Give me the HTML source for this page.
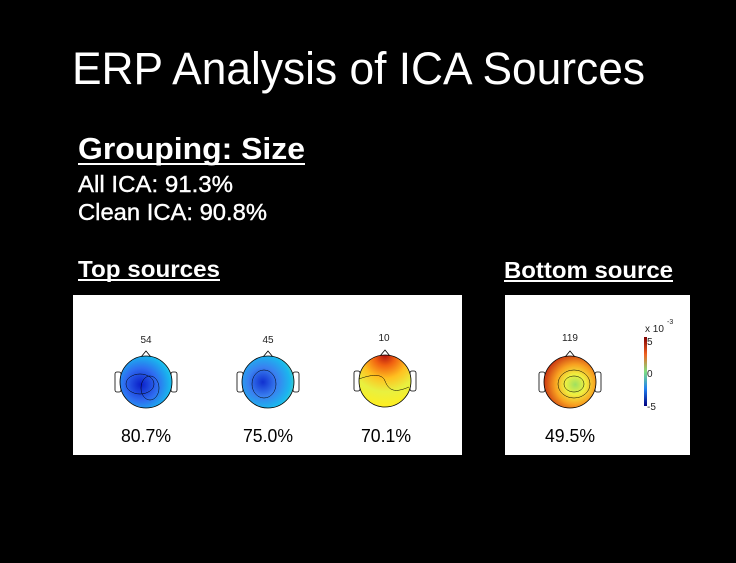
<!DOCTYPE html>
<html><head><style>
body{margin:0;background:#000;width:736px;height:558px;overflow:hidden;font-family:"Liberation Sans",Arial,sans-serif}
</style></head><body>
<svg width="736" height="558" xmlns="http://www.w3.org/2000/svg" font-family="Liberation Sans, Arial, sans-serif">
<defs>
<radialGradient id="g1" cx="0.4" cy="0.55" r="0.7"><stop offset="0" stop-color="#0a1ec8"/><stop offset="0.45" stop-color="#2f6cf0"/><stop offset="0.8" stop-color="#19b6ee"/><stop offset="1" stop-color="#46e0e0"/></radialGradient>
<radialGradient id="g2" cx="0.4" cy="0.5" r="0.7"><stop offset="0" stop-color="#1030d0"/><stop offset="0.4" stop-color="#3a80f0"/><stop offset="0.75" stop-color="#1ab8ee"/><stop offset="1" stop-color="#6ee0a0"/></radialGradient>
<radialGradient id="g3" cx="0.5" cy="0" r="1"><stop offset="0" stop-color="#b01010"/><stop offset="0.2" stop-color="#f06010"/><stop offset="0.45" stop-color="#ffc020"/><stop offset="0.7" stop-color="#e8f040"/><stop offset="1" stop-color="#ffee20"/></radialGradient>
<radialGradient id="g4" cx="0.6" cy="0.55" r="0.65"><stop offset="0" stop-color="#9ee060"/><stop offset="0.3" stop-color="#f0f040"/><stop offset="0.6" stop-color="#f8a020"/><stop offset="1" stop-color="#c02010"/></radialGradient>
<linearGradient id="cb" x1="0" y1="0" x2="0" y2="1"><stop offset="0" stop-color="#800000"/><stop offset="0.25" stop-color="#f06020"/><stop offset="0.5" stop-color="#80e080"/><stop offset="0.75" stop-color="#2080f0"/><stop offset="1" stop-color="#000080"/></linearGradient>
</defs>
<text x="72" y="84" fill="#fff" font-size="45" textLength="573" lengthAdjust="spacingAndGlyphs">ERP Analysis of ICA Sources</text>
<text x="78" y="159" fill="#fff" font-size="31" font-weight="bold" textLength="227" lengthAdjust="spacingAndGlyphs">Grouping: Size</text>
<line x1="78" y1="164" x2="305" y2="164" stroke="#fff" stroke-width="2"/>
<text x="78" y="192" fill="#fff" stroke="#fff" stroke-width="0.4" font-size="23" textLength="155" lengthAdjust="spacingAndGlyphs">All ICA: 91.3%</text>
<text x="78" y="220" fill="#fff" stroke="#fff" stroke-width="0.4" font-size="23" textLength="189" lengthAdjust="spacingAndGlyphs">Clean ICA: 90.8%</text>
<text x="78" y="277" fill="#fff" font-size="23" font-weight="bold" textLength="142" lengthAdjust="spacingAndGlyphs">Top sources</text>
<line x1="78" y1="280" x2="220" y2="280" stroke="#fff" stroke-width="2"/>
<text x="504" y="278" fill="#fff" font-size="23" font-weight="bold" textLength="169" lengthAdjust="spacingAndGlyphs">Bottom source</text>
<line x1="504" y1="281" x2="673" y2="281" stroke="#fff" stroke-width="2"/>
<rect x="73" y="295" width="389" height="160" fill="#fff"/>
<rect x="505" y="295" width="185" height="160" fill="#fff"/>
<g stroke="#000" stroke-width="0.8">
<g transform="translate(146,382)"><path d="M-5,-25 L0,-31 L5,-25" fill="#fff"/><rect x="-31" y="-10" width="6" height="20" rx="2" fill="#fff"/><rect x="25" y="-10" width="6" height="20" rx="2" fill="#fff"/><circle r="26" fill="url(#g1)"/><ellipse cx="-6" cy="2" rx="14" ry="10" fill="none" stroke-width="0.5"/><ellipse cx="4" cy="6" rx="9" ry="12" fill="none" stroke-width="0.5"/></g>
<g transform="translate(268,382)"><path d="M-5,-25 L0,-31 L5,-25" fill="#fff"/><rect x="-31" y="-10" width="6" height="20" rx="2" fill="#fff"/><rect x="25" y="-10" width="6" height="20" rx="2" fill="#fff"/><circle r="26" fill="url(#g2)"/><ellipse cx="-4" cy="2" rx="12" ry="14" fill="none" stroke-width="0.5"/></g>
<g transform="translate(385,381)"><path d="M-5,-25 L0,-31 L5,-25" fill="#fff"/><rect x="-31" y="-10" width="6" height="20" rx="2" fill="#fff"/><rect x="25" y="-10" width="6" height="20" rx="2" fill="#fff"/><circle r="26" fill="url(#g3)"/><path d="M-26,-2 C-10,-8 -2,-6 0,0 C4,10 10,12 24,6" fill="none" stroke-width="0.5"/></g>
<g transform="translate(570,382)"><path d="M-5,-25 L0,-31 L5,-25" fill="#fff"/><rect x="-31" y="-10" width="6" height="20" rx="2" fill="#fff"/><rect x="25" y="-10" width="6" height="20" rx="2" fill="#fff"/><circle r="26" fill="url(#g4)"/><ellipse cx="4" cy="2" rx="10" ry="8" fill="none" stroke-width="0.5"/><ellipse cx="4" cy="2" rx="16" ry="14" fill="none" stroke-width="0.5"/></g>
</g>
<g font-size="10" fill="#222" text-anchor="middle">
<text x="146" y="343">54</text><text x="268" y="343">45</text><text x="384" y="341">10</text><text x="570" y="341">119</text>
</g>
<g font-size="18" fill="#000" text-anchor="middle">
<text x="146" y="442" textLength="50" lengthAdjust="spacingAndGlyphs">80.7%</text><text x="268" y="442" textLength="50" lengthAdjust="spacingAndGlyphs">75.0%</text><text x="386" y="442" textLength="50" lengthAdjust="spacingAndGlyphs">70.1%</text><text x="570" y="442" textLength="50" lengthAdjust="spacingAndGlyphs">49.5%</text>
</g>
<rect x="644" y="337" width="3" height="69" fill="url(#cb)"/>
<g font-size="10" fill="#222"><text x="647" y="345">5</text><text x="647" y="377">0</text><text x="647" y="410">-5</text><text x="645" y="332">x 10</text><text x="667" y="324" font-size="7">-3</text></g>
</svg>
</body></html>
